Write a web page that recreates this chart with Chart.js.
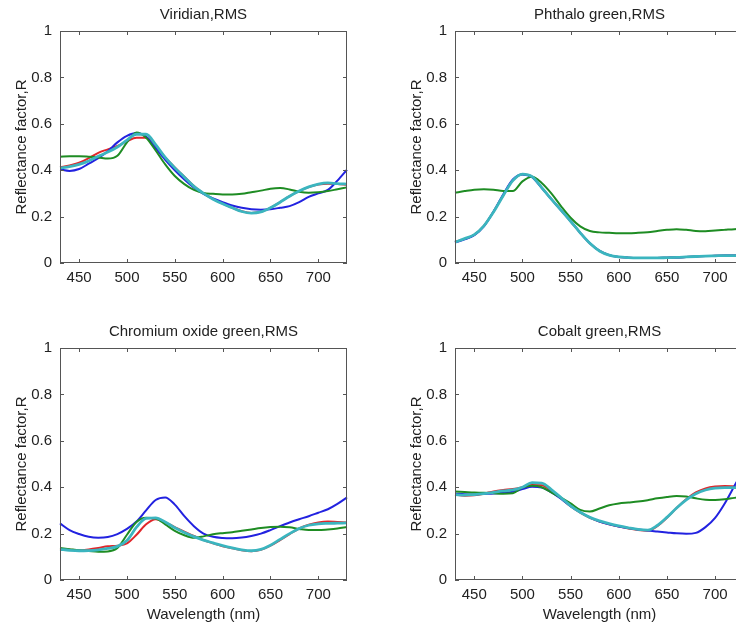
<!DOCTYPE html>
<html>
<head>
<meta charset="utf-8">
<script src="https://cdn.jsdelivr.net/npm/chart.js@4/dist/chart.umd.min.js"></script>
<style>
  html, body { margin: 0; padding: 0; background: #fff; width: 736px; height: 625px; overflow: hidden; }
  canvas { position: absolute; }
</style>
</head>
<body>
<canvas id="viridian" width="360" height="300" style="left:0;top:0"></canvas>
<canvas id="phthalo" width="360" height="300" style="left:395px;top:0"></canvas>
<canvas id="chromium" width="360" height="315" style="left:0;top:310px"></canvas>
<canvas id="cobalt" width="360" height="315" style="left:395px;top:310px"></canvas>
<script>
const wavelengths = [430, 440, 450, 460, 470, 480, 490, 500, 510, 520, 530, 540, 550, 560, 570, 580, 590, 600, 610, 620, 630, 640, 650, 660, 670, 680, 690, 700, 710, 720, 730];
const xTicks = [450, 500, 550, 600, 650, 700];
const yTicks = [0, 0.2, 0.4, 0.6, 0.8, 1];
const yTickLabels = ["0", "0.2", "0.4", "0.6", "0.8", "1"];

// Viridian
const viridianRed   = [0.412, 0.420, 0.432, 0.452, 0.475, 0.490, 0.505, 0.525, 0.540, 0.540, 0.505, 0.455, 0.412, 0.372, 0.332, 0.300, 0.276, 0.256, 0.238, 0.223, 0.216, 0.221, 0.238, 0.262, 0.288, 0.310, 0.327, 0.338, 0.342, 0.340, 0.337];
const viridianGreen = [0.458, 0.460, 0.460, 0.458, 0.455, 0.450, 0.462, 0.520, 0.563, 0.540, 0.485, 0.425, 0.375, 0.340, 0.315, 0.302, 0.298, 0.295, 0.295, 0.298, 0.305, 0.312, 0.320, 0.323, 0.317, 0.307, 0.303, 0.305, 0.310, 0.318, 0.326];
const viridianBlue  = [0.403, 0.397, 0.405, 0.428, 0.452, 0.482, 0.520, 0.548, 0.560, 0.545, 0.495, 0.445, 0.400, 0.360, 0.325, 0.298, 0.278, 0.262, 0.248, 0.238, 0.232, 0.230, 0.232, 0.238, 0.245, 0.262, 0.285, 0.300, 0.315, 0.355, 0.402];
const viridianCyan  = [0.410, 0.415, 0.425, 0.440, 0.460, 0.478, 0.500, 0.530, 0.555, 0.555, 0.510, 0.455, 0.410, 0.370, 0.330, 0.300, 0.275, 0.255, 0.238, 0.222, 0.215, 0.220, 0.238, 0.262, 0.288, 0.310, 0.328, 0.340, 0.345, 0.342, 0.340];

// Phthalo green
const phthaloRed   = [0.090, 0.104, 0.121, 0.160, 0.221, 0.291, 0.356, 0.383, 0.372, 0.325, 0.275, 0.228, 0.180, 0.130, 0.085, 0.052, 0.034, 0.026, 0.023, 0.022, 0.022, 0.022, 0.023, 0.024, 0.026, 0.028, 0.030, 0.031, 0.032, 0.032, 0.032];
const phthaloGreen = [0.303, 0.310, 0.316, 0.318, 0.316, 0.310, 0.310, 0.352, 0.372, 0.345, 0.300, 0.245, 0.195, 0.158, 0.138, 0.132, 0.130, 0.128, 0.128, 0.130, 0.133, 0.138, 0.143, 0.146, 0.143, 0.138, 0.137, 0.140, 0.143, 0.146, 0.148];
const phthaloBlue  = [0.088, 0.102, 0.120, 0.158, 0.222, 0.295, 0.360, 0.382, 0.370, 0.324, 0.275, 0.228, 0.180, 0.130, 0.085, 0.052, 0.034, 0.026, 0.023, 0.022, 0.022, 0.022, 0.023, 0.024, 0.026, 0.028, 0.030, 0.031, 0.032, 0.032, 0.032];
const phthaloCyan  = [0.090, 0.105, 0.122, 0.160, 0.220, 0.290, 0.355, 0.383, 0.372, 0.325, 0.275, 0.228, 0.180, 0.130, 0.085, 0.052, 0.034, 0.026, 0.023, 0.022, 0.022, 0.022, 0.023, 0.024, 0.026, 0.028, 0.030, 0.031, 0.032, 0.032, 0.032];

// Chromium oxide green
const chromiumRed   = [0.135, 0.130, 0.128, 0.132, 0.138, 0.145, 0.148, 0.158, 0.195, 0.240, 0.262, 0.248, 0.228, 0.208, 0.190, 0.172, 0.158, 0.145, 0.137, 0.128, 0.124, 0.130, 0.148, 0.172, 0.198, 0.222, 0.238, 0.248, 0.252, 0.250, 0.248];
const chromiumGreen = [0.138, 0.133, 0.128, 0.125, 0.122, 0.123, 0.138, 0.195, 0.250, 0.268, 0.265, 0.240, 0.212, 0.193, 0.182, 0.188, 0.197, 0.202, 0.206, 0.212, 0.218, 0.224, 0.228, 0.230, 0.227, 0.220, 0.215, 0.215, 0.218, 0.222, 0.228];
const chromiumBlue  = [0.244, 0.215, 0.198, 0.186, 0.182, 0.185, 0.198, 0.220, 0.252, 0.300, 0.345, 0.356, 0.325, 0.275, 0.232, 0.200, 0.186, 0.181, 0.180, 0.183, 0.190, 0.200, 0.215, 0.232, 0.248, 0.262, 0.275, 0.290, 0.305, 0.328, 0.356];
const chromiumCyan  = [0.132, 0.128, 0.126, 0.127, 0.130, 0.136, 0.145, 0.170, 0.228, 0.266, 0.268, 0.250, 0.225, 0.205, 0.187, 0.172, 0.160, 0.148, 0.138, 0.130, 0.126, 0.132, 0.150, 0.175, 0.200, 0.222, 0.236, 0.242, 0.244, 0.245, 0.246];

// Cobalt green
const cobaltRed   = [0.368, 0.363, 0.365, 0.372, 0.382, 0.388, 0.392, 0.400, 0.410, 0.408, 0.385, 0.352, 0.318, 0.290, 0.268, 0.252, 0.240, 0.230, 0.222, 0.215, 0.212, 0.232, 0.268, 0.310, 0.348, 0.378, 0.395, 0.403, 0.405, 0.403, 0.400];
const cobaltGreen = [0.381, 0.379, 0.377, 0.376, 0.374, 0.372, 0.374, 0.398, 0.406, 0.400, 0.378, 0.355, 0.330, 0.302, 0.295, 0.308, 0.322, 0.330, 0.334, 0.338, 0.344, 0.352, 0.358, 0.362, 0.360, 0.352, 0.346, 0.345, 0.348, 0.354, 0.358];
const cobaltBlue  = [0.372, 0.370, 0.369, 0.371, 0.373, 0.376, 0.380, 0.392, 0.402, 0.398, 0.378, 0.350, 0.318, 0.292, 0.270, 0.252, 0.240, 0.231, 0.224, 0.218, 0.213, 0.209, 0.205, 0.201, 0.199, 0.203, 0.228, 0.268, 0.330, 0.405, 0.480];
const cobaltCyan  = [0.368, 0.366, 0.368, 0.372, 0.378, 0.384, 0.388, 0.400, 0.420, 0.418, 0.390, 0.355, 0.320, 0.292, 0.270, 0.255, 0.243, 0.233, 0.225, 0.218, 0.215, 0.235, 0.270, 0.310, 0.345, 0.372, 0.388, 0.396, 0.398, 0.398, 0.398];

const FONT = "'Liberation Sans', Arial, Helvetica, sans-serif";
const TEXT = "#222";

// box round the plot with small inward ticks, matlab style
const framePlugin = {
    id: "frame",
    afterDatasetsDraw(chart) {
        const { ctx, chartArea: a, scales } = chart;
        const x = scales.x, y = scales.y;
        ctx.save();
        ctx.strokeStyle = "#555";
        ctx.lineWidth = 1;
        ctx.strokeRect(a.left + 0.5, a.top + 0.5, a.width - 1, a.height - 1);
        ctx.beginPath();
        x.ticks.forEach(t => {
            const px = Math.round(x.getPixelForValue(t.value)) + 0.5;
            ctx.moveTo(px, a.bottom); ctx.lineTo(px, a.bottom - 4);
            ctx.moveTo(px, a.top); ctx.lineTo(px, a.top + 4);
        });
        y.ticks.forEach(t => {
            const py = Math.round(y.getPixelForValue(t.value)) + 0.5;
            ctx.moveTo(a.left, py); ctx.lineTo(a.left + 4, py);
            ctx.moveTo(a.right, py); ctx.lineTo(a.right - 4, py);
        });
        ctx.stroke();
        ctx.restore();
    }
};

function line(values, color, width) {
    return {
        data: wavelengths.map((w, i) => ({ x: w, y: values[i] })),
        borderColor: color,
        borderWidth: width,
        pointRadius: 0,
        cubicInterpolationMode: "monotone",
        fill: false,
        clip: 2
    };
}

function createSpectrumChart(id, title, red, green, blue, cyan, bottomRow) {
    new Chart(document.getElementById(id), {
        type: "line",
        data: {
            // first dataset is painted last (on top)
            datasets: [
                line(cyan, "#3bb5bf", 2.8),
                line(green, "#1e8c23", 2),
                line(blue, "#2222e0", 2),
                line(red, "#e0262a", 2)
            ]
        },
        options: {
            responsive: false,
            animation: false,
            layout: { padding: { left: 0, right: id === "viridian" || id === "chromium" ? 13 : 11, top: 0, bottom: 0 } },
            plugins: {
                legend: { display: false },
                tooltip: { enabled: false },
                title: {
                    display: true,
                    text: title,
                    fullSize: false,
                    color: TEXT,
                    font: { family: FONT, size: 15, weight: "normal" },
                    padding: bottomRow ? { top: 13, bottom: 7 } : { top: 6, bottom: 7 }
                }
            },
            scales: {
                x: {
                    type: "linear",
                    min: 430,
                    max: 730,
                    afterBuildTicks: s => { s.ticks = xTicks.map(v => ({ value: v })); },
                    afterFit: s => { s.height = bottomRow ? 45 : 37; },
                    grid: { display: false, drawTicks: false },
                    border: { display: false },
                    ticks: { color: TEXT, font: { family: FONT, size: 15 }, padding: 6, autoSkip: false, maxRotation: 0 },
                    title: {
                        display: bottomRow,
                        text: "Wavelength (nm)",
                        color: TEXT,
                        font: { family: FONT, size: 15 },
                        padding: { top: 0, bottom: 1 }
                    }
                },
                y: {
                    min: 0,
                    max: 1,
                    afterBuildTicks: s => { s.ticks = yTicks.map(v => ({ value: v })); },
                    afterFit: s => { s.width = 60; },
                    grid: { display: false, drawTicks: false },
                    border: { display: false },
                    ticks: {
                        color: TEXT,
                        font: { family: FONT, size: 15 },
                        padding: 8,
                        callback: (v, i) => yTickLabels[i]
                    },
                    title: {
                        display: true,
                        text: "Reflectance factor,R",
                        color: TEXT,
                        font: { family: FONT, size: 15 },
                        padding: { top: 13, bottom: 0 }
                    }
                }
            }
        },
        plugins: [framePlugin]
    });
}

createSpectrumChart("viridian", "Viridian,RMS", viridianRed, viridianGreen, viridianBlue, viridianCyan, false);
createSpectrumChart("phthalo", "Phthalo green,RMS", phthaloRed, phthaloGreen, phthaloBlue, phthaloCyan, false);
createSpectrumChart("chromium", "Chromium oxide green,RMS", chromiumRed, chromiumGreen, chromiumBlue, chromiumCyan, true);
createSpectrumChart("cobalt", "Cobalt green,RMS", cobaltRed, cobaltGreen, cobaltBlue, cobaltCyan, true);
</script>
</body>
</html>
